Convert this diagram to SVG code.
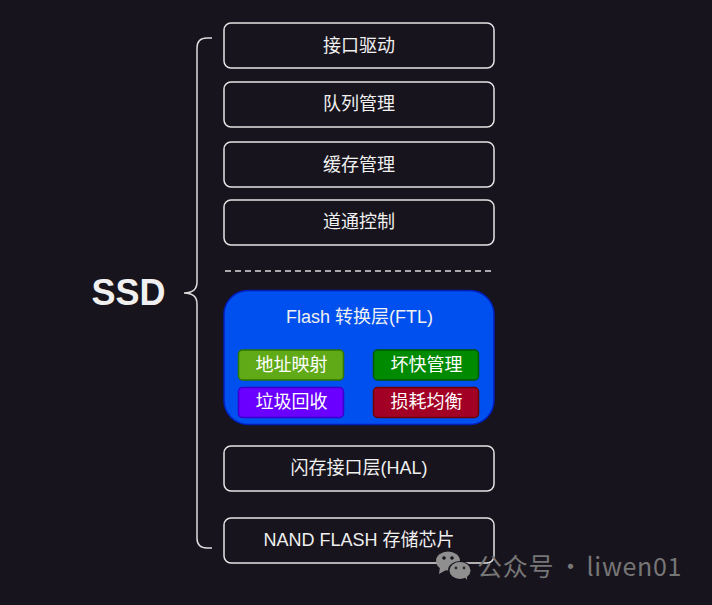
<svg xmlns="http://www.w3.org/2000/svg" width="712" height="605" viewBox="0 0 712 605">
<style>
text{font-family:"Liberation Sans","Noto Sans CJK SC",sans-serif;text-anchor:middle;fill:#f0f0f0}
.n{fill:#18141d;stroke:#e4e4e4;stroke-width:1.5}
.t{font-size:18px}
.s{font-size:18px;fill:#fff}
.c{stroke-width:1.5}
.wm{fill:#8f8f8f}
</style>
<rect width="712" height="605" fill="#18141d"/>
<g id="connectors" fill="none" stroke="#dcdcdc" stroke-width="1.5">
<path id="brace" d="M212 38H207Q197 38 197 48V282Q197 293 184 293Q197 293 197 304V538Q197 548 207 548H212"/>
<path id="divider" d="M225 271H493" stroke-dasharray="6 4"/>
</g>
<g id="label-ssd"><text x="128.500" y="305" font-size="36" font-weight="700">SSD</text></g>
<g id="node-1"><rect class="n" x="224" y="23" width="270" height="45" rx="7"/><text class="t" x="359" y="52">接口驱动</text></g>
<g id="node-2"><rect class="n" x="224" y="82" width="270" height="45" rx="7"/><text class="t" x="359" y="110">队列管理</text></g>
<g id="node-3"><rect class="n" x="224" y="142" width="270" height="45" rx="7"/><text class="t" x="359" y="171">缓存管理</text></g>
<g id="node-4"><rect class="n" x="224" y="200" width="270" height="45" rx="7"/><text class="t" x="359" y="228">道通控制</text></g>
<g id="node-ftl">
<rect x="224" y="290.500" width="270" height="134" rx="24" fill="#0050ef" stroke="#001dbc" stroke-width="1.500"/>
<text class="t" x="359.500" y="323">Flash 转换层(FTL)</text>
</g>
<g id="node-addr"><rect class="c" x="238.500" y="350" width="105" height="30" rx="4" fill="#60a917" stroke="#2d7600"/><text class="s" x="291.500" y="371">地址映射</text></g>
<g id="node-bad"><rect class="c" x="373.500" y="350" width="105" height="30" rx="4" fill="#008a00" stroke="#005700"/><text class="s" x="426.500" y="371">坏快管理</text></g>
<g id="node-gc"><rect class="c" x="238.500" y="387.500" width="105" height="30" rx="4" fill="#6a00ff" stroke="#3700cc"/><text class="s" x="291.500" y="408">垃圾回收</text></g>
<g id="node-wear"><rect class="c" x="373.500" y="387.500" width="105" height="30" rx="4" fill="#a20025" stroke="#6f0000"/><text class="s" x="426.500" y="408">损耗均衡</text></g>
<g id="node-hal"><rect class="n" x="224" y="446" width="270" height="45" rx="7"/><text class="t" x="359" y="474">闪存接口层(HAL)</text></g>
<g id="node-nand"><rect class="n" x="224" y="518" width="270" height="45" rx="7"/><text class="t" x="359" y="546">NAND FLASH 存储芯片</text></g>
<g id="watermark">
<ellipse class="wm" cx="448" cy="561" rx="12" ry="9.500"/>
<path class="wm" d="M440 567l-1 7l7-4z"/>
<ellipse cx="460" cy="570.500" rx="12" ry="9.500" fill="#18141d"/>
<ellipse class="wm" cx="460" cy="570.500" rx="10.500" ry="8.500"/>
<path class="wm" d="M464 576l3 4l0-6z"/>
<g fill="#18141d"><circle cx="444" cy="558" r="1.800"/><circle cx="452" cy="558" r="1.800"/></g>
<g fill="#2a2a2e"><circle cx="456" cy="568" r="1.400"/><circle cx="464" cy="568" r="1.400"/></g>
<text x="477" y="576" font-size="25" style="text-anchor:start;font-family:'Noto Sans CJK SC','Noto Sans',sans-serif;fill:#767676;letter-spacing:.7px">公众号<tspan x="558">·</tspan><tspan x="586.500">liwen01</tspan></text>
</g>
</svg>
